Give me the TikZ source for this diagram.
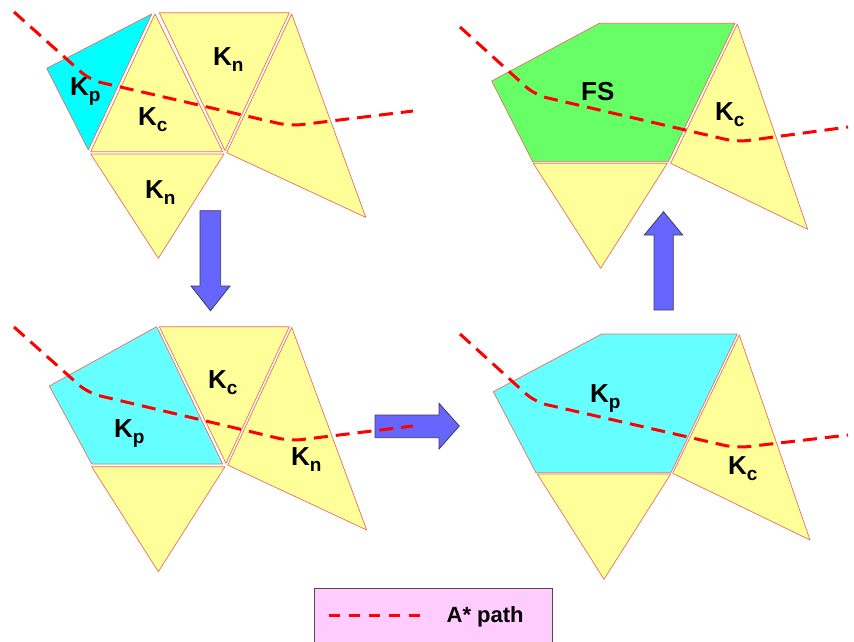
\documentclass[tikz,border=0pt]{standalone}
\usepackage{fontspec}
\setmainfont{Liberation Sans}
\definecolor{yel}{RGB}{255,255,153}
\definecolor{cyanA}{RGB}{0,255,255}
\definecolor{cyanB}{RGB}{102,255,255}
\definecolor{grn}{RGB}{102,255,102}
\definecolor{edgec}{RGB}{232,110,100}
\definecolor{arrowc}{RGB}{102,102,255}
\definecolor{arrowe}{RGB}{60,60,95}
\definecolor{legc}{RGB}{255,204,255}
\definecolor{pathc}{RGB}{255,0,0}
\newcommand\Klab[1]{K\raisebox{-6pt}{\fontsize{19}{19}\selectfont #1}}
\begin{document}
\begin{tikzpicture}[x=1pt,y=-1pt,
  cell/.style={draw=edgec, line width=0.7pt, line join=round},
  lab/.style={anchor=base west, inner sep=0pt, font=\fontsize{26}{26}\selectfont\bfseries},
  apath/.style={draw=pathc, line width=3pt, dash pattern=on 14pt off 8pt, rounded corners=12pt},
  bigarrow/.style={fill=arrowc, draw=arrowe, line width=0.8pt, line join=miter}]
\useasboundingbox (0,0) rectangle (854,641);

% ---------- panel 1 (top left) ----------
\path[cell, fill=cyanA] (46.7,68.3) -- (151.7,14) -- (88.3,150) -- cycle;
\path[cell, fill=yel] (155,14) -- (90.7,151.7) -- (222.7,151.7) -- cycle;
\path[cell, fill=yel] (159.3,12.7) -- (289.3,12.7) -- (225,150.7) -- cycle;
\path[cell, fill=yel] (291.7,14) -- (226.7,152.7) -- (365.7,217.3) -- cycle;
\path[cell, fill=yel] (90.7,154) -- (224,154) -- (158.3,258.3) -- cycle;
\node[lab] (p1kp) at (70,95) {\Klab{p}};
\node[lab] (p1kc) at (138,125) {\Klab{c}};
\node[lab] (p1kn) at (213,65) {\Klab{n}};
\node[lab] (p1kb) at (145,198) {\Klab{n}};
\draw[apath] (14,12) -- (90,80) -- (290,126) -- (413,111);

% ---------- panel 2 (bottom left) ----------
\path[cell, fill=cyanB] (49.3,386) -- (156.7,326.7) -- (222.7,464) -- (91.7,464) -- cycle;
\path[cell, fill=yel] (159.3,326.7) -- (289.3,326.7) -- (226,463.3) -- cycle;
\path[cell, fill=yel] (291.7,327.3) -- (227.7,465) -- (366.7,530) -- cycle;
\path[cell, fill=yel] (91.7,466.7) -- (225,466.7) -- (158.3,571.7) -- cycle;
\node[lab] (p2kp) at (114,437) {\Klab{p}};
\node[lab] (p2kc) at (208,388) {\Klab{c}};
\node[lab] (p2kn) at (291,465) {\Klab{n}};

% ---------- panel 3 (top right) ----------
\path[cell, fill=grn] (491.7,81) -- (599.3,23.3) -- (735,23.3) -- (668.3,161.7) -- (532.7,161.7) -- cycle;
\path[cell, fill=yel] (737.3,24) -- (670.7,163.3) -- (807.7,229.3) -- cycle;
\path[cell, fill=yel] (533.3,163.3) -- (667.3,163.3) -- (600.7,268.3) -- cycle;
\node[lab] (p3fs) at (581,100) {FS};
\node[lab] (p3kc) at (715,120) {\Klab{c}};
\draw[apath] (460,27) -- (535,95) -- (737,142) -- (848,127);

% ---------- panel 4 (bottom right) ----------
\path[cell, fill=cyanB] (493.3,391.7) -- (601.7,334) -- (737.3,334) -- (671,472.7) -- (536,472.7) -- cycle;
\path[cell, fill=yel] (739.3,335) -- (672.7,473.3) -- (810,540) -- cycle;
\path[cell, fill=yel] (537.3,474) -- (670.7,474) -- (604,579.3) -- cycle;
\node[lab] (p4kp) at (590,402) {\Klab{p}};
\node[lab] (p4kc) at (728,474) {\Klab{c}};
\draw[apath] (460,334) -- (535,402) -- (736,448) -- (848,435);

% ---------- arrows ----------
\path[bigarrow] (200,210.7) -- (220.7,210.7) -- (220.7,286) -- (230,286) -- (210.5,310.7) -- (191,286) -- (200,286) -- cycle;
\path[bigarrow] (375,415) -- (439,415) -- (439,403.3) -- (459.3,426) -- (439,449) -- (439,437.7) -- (375,437.7) -- cycle;
\path[bigarrow] (654,310) -- (654,235) -- (644.3,235) -- (663.5,211.7) -- (682.7,235) -- (673.3,235) -- (673.3,310) -- cycle;

% path of panel 2 drawn over the arrow
\draw[apath] (14,327) -- (88,393) -- (290,441) -- (413,426);

% ---------- legend ----------
\path[fill=legc, draw=black!70, line width=0.9pt] (314.3,588.3) rectangle (552.3,650);
\coordinate (legA) at (329.3,615);
\coordinate (legB) at (421.7,615);
\draw[draw=pathc, line width=3pt, dash pattern=on 10.7pt off 9.3pt] (legA) -- (legB);
\node[anchor=base west, inner sep=0pt, font=\fontsize{22}{22}\selectfont\bfseries] (legtext) at (446.5,622.5) {A* path};
\end{tikzpicture}
\end{document}
